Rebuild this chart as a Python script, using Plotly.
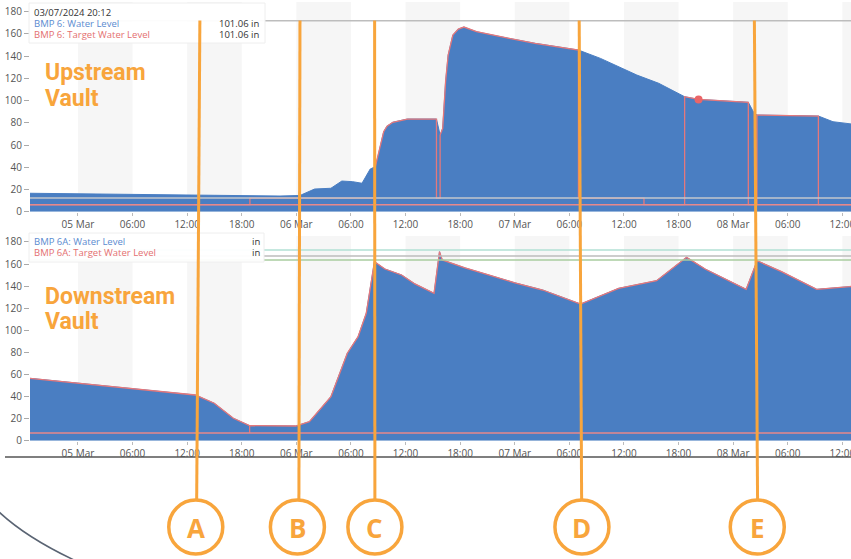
import plotly.graph_objects as go
from datetime import datetime, timedelta

# ---------------- data ----------------
x_start = "2024-03-04 18:44"
x_end = "2024-03-08 12:57"

tick_times = ["2024-03-05 00:00", "2024-03-05 06:00", "2024-03-05 12:00", "2024-03-05 18:00",
              "2024-03-06 00:00", "2024-03-06 06:00", "2024-03-06 12:00", "2024-03-06 18:00",
              "2024-03-07 00:00", "2024-03-07 06:00", "2024-03-07 12:00", "2024-03-07 18:00",
              "2024-03-08 00:00", "2024-03-08 06:00", "2024-03-08 12:00"]
tick_labels = ["05 Mar", "06:00", "12:00", "18:00", "06 Mar", "06:00", "12:00", "18:00",
               "07 Mar", "06:00", "12:00", "18:00", "08 Mar", "06:00", "12:00"]

band_starts = ["2024-03-05 00:00", "2024-03-05 12:00", "2024-03-06 00:00", "2024-03-06 12:00",
               "2024-03-07 00:00", "2024-03-07 12:00", "2024-03-08 00:00", "2024-03-08 12:00"]
band_hours = 6

# Upstream vault (BMP 6)
up_time = ["2024-03-04 18:44", "2024-03-05 02:25", "2024-03-05 12:18", "2024-03-05 22:12",
           "2024-03-06 00:24", "2024-03-06 02:00", "2024-03-06 03:48", "2024-03-06 05:00",
           "2024-03-06 06:12", "2024-03-06 07:13", "2024-03-06 08:07", "2024-03-06 08:41",
           "2024-03-06 09:00", "2024-03-06 09:36", "2024-03-06 09:58", "2024-03-06 10:36",
           "2024-03-06 12:12", "2024-03-06 15:24", "2024-03-06 15:48", "2024-03-06 16:05",
           "2024-03-06 16:24", "2024-03-06 16:41", "2024-03-06 17:12", "2024-03-06 17:48",
           "2024-03-06 18:25", "2024-03-06 19:48", "2024-03-06 23:00", "2024-03-07 02:13",
           "2024-03-07 07:00", "2024-03-07 09:25", "2024-03-07 13:25", "2024-03-07 15:49",
           "2024-03-07 18:40", "2024-03-07 20:12", "2024-03-08 01:40", "2024-03-08 02:13",
           "2024-03-08 02:37", "2024-03-08 09:22", "2024-03-08 10:58", "2024-03-08 12:57"]
up_level = [16.6, 15.9, 15.0, 14.1,
            14.6, 20.4, 21.1, 27.6,
            27.0, 25.6, 38.4, 40.5,
            51.0, 72.0, 77.0, 80.5,
            83.4, 83.4, 69.0, 75.0,
            117.0, 141.0, 159.0, 164.4,
            166.2, 162.0, 156.6, 151.6,
            145.5, 138.0, 123.0, 115.6,
            103.5, 101.06, 98.5, 90.0,
            87.0, 86.1, 81.0, 79.0]

up_target_time = ["2024-03-04 18:44", "2024-03-05 18:54", "2024-03-05 18:54", "2024-03-06 08:41",
                  "2024-03-06 08:41", "2024-03-06 09:00", "2024-03-06 09:36", "2024-03-06 09:58",
                  "2024-03-06 10:36", "2024-03-06 12:12", "2024-03-06 15:24", "2024-03-06 15:24",
                  "2024-03-06 15:48", "2024-03-06 15:48", "2024-03-06 16:05", "2024-03-06 16:24",
                  "2024-03-06 16:41", "2024-03-06 17:12", "2024-03-06 17:48", "2024-03-06 18:25",
                  "2024-03-06 19:48", "2024-03-06 23:00", "2024-03-07 02:13", "2024-03-07 07:00",
                  "2024-03-07 07:00", "2024-03-07 14:12", "2024-03-07 14:12", "2024-03-07 18:40",
                  "2024-03-07 18:40", "2024-03-07 20:12", "2024-03-08 01:40", "2024-03-08 01:40",
                  "2024-03-08 02:37", "2024-03-08 02:37", "2024-03-08 09:22", "2024-03-08 09:22",
                  "2024-03-08 12:57"]
up_target = [6.3, 6.3, 12.3, 12.3,
             40.5, 51.0, 72.0, 77.0,
             80.5, 83.4, 83.4, 12.3,
             12.3, 69.0, 75.0, 117.0,
             141.0, 159.0, 164.4, 166.2,
             162.0, 156.6, 151.6, 145.5,
             12.3, 12.3, 6.3, 6.3,
             103.5, 101.06, 98.5, 6.3,
             6.3, 87.0, 86.1, 6.3,
             6.3]

up_hover_time = "2024-03-07 20:12"
up_hover_value = 101.06

# Reference levels (in)
up_ref_levels = [171.9, 12.3, 6.3]
down_ref_levels = [172.7, 167.3, 163.7, 7.0]

# Downstream vault (BMP 6A)
down_time = ["2024-03-04 18:44", "2024-03-05 12:54", "2024-03-05 14:59", "2024-03-05 17:05",
             "2024-03-05 18:52", "2024-03-05 23:56", "2024-03-06 01:26", "2024-03-06 03:48",
             "2024-03-06 05:36", "2024-03-06 06:47", "2024-03-06 07:41", "2024-03-06 08:35",
             "2024-03-06 09:44", "2024-03-06 11:34", "2024-03-06 13:02", "2024-03-06 15:08",
             "2024-03-06 15:44", "2024-03-06 16:02", "2024-03-06 18:32", "2024-03-06 21:07",
             "2024-03-07 00:01", "2024-03-07 03:04", "2024-03-07 07:14", "2024-03-07 11:25",
             "2024-03-07 15:35", "2024-03-07 18:53", "2024-03-07 20:58", "2024-03-08 01:26",
             "2024-03-08 02:38", "2024-03-08 05:19", "2024-03-08 09:11", "2024-03-08 12:46",
             "2024-03-08 12:57"]
down_level = [56.5, 41.4, 33.9, 20.3,
              13.6, 13.3, 17.2, 39.9,
              79.2, 94.2, 115.4, 162.1,
              155.5, 150.1, 142.0, 133.5,
              171.2, 163.7, 156.5, 150.1,
              143.0, 136.5, 123.8, 138.0,
              144.9, 166.1, 155.3, 137.1,
              163.0, 153.1, 137.1, 139.5,
              139.7]

down_target_time = ["2024-03-04 18:44", "2024-03-05 12:54", "2024-03-05 14:59", "2024-03-05 17:05",
                    "2024-03-05 18:52", "2024-03-05 18:52", "2024-03-05 18:52", "2024-03-05 23:56",
                    "2024-03-06 01:26", "2024-03-06 03:48", "2024-03-06 05:36", "2024-03-06 06:47",
                    "2024-03-06 07:41", "2024-03-06 08:35", "2024-03-06 09:44", "2024-03-06 11:34",
                    "2024-03-06 13:02", "2024-03-06 15:08", "2024-03-06 15:44", "2024-03-06 16:02",
                    "2024-03-06 18:32", "2024-03-06 21:07", "2024-03-07 00:01", "2024-03-07 03:04",
                    "2024-03-07 07:14", "2024-03-07 11:25", "2024-03-07 15:35", "2024-03-07 18:53",
                    "2024-03-07 20:58", "2024-03-08 01:26", "2024-03-08 02:38", "2024-03-08 05:19",
                    "2024-03-08 09:11", "2024-03-08 12:46", "2024-03-08 12:57"]
down_target = [56.5, 41.4, 33.9, 20.3,
               13.6, 7.0, 13.6, 13.3,
               17.2, 39.9, 79.2, 94.2,
               115.4, 162.1, 155.5, 150.1,
               142.0, 133.5, 171.2, 163.7,
               156.5, 150.1, 143.0, 136.5,
               123.8, 138.0, 144.9, 166.1,
               155.3, 137.1, 163.0, 153.1,
               137.1, 139.5, 139.7]

# Event markers
event_labels = ["A", "B", "C", "D", "E"]
event_top_times = ["2024-03-05 13:24", "2024-03-06 00:24", "2024-03-06 08:36", "2024-03-07 07:05", "2024-03-08 02:20"]
event_bottom_times = ["2024-03-05 13:03", "2024-03-06 00:17", "2024-03-06 08:38", "2024-03-07 07:21", "2024-03-08 02:41"]
event_circle_times = ["2024-03-05 12:57", "2024-03-06 00:07", "2024-03-06 08:38", "2024-03-07 07:23", "2024-03-08 02:39"]

# ---------------- style ----------------
W, H = 851, 559
BLUE = "#4a7ec2"
PINK = "#e6787b"
ORANGE = "#f8a53c"
BAND = "#f6f6f6"
TICKFONT = dict(family="Open Sans", size=10, color="#555555")


def px(x):
    return x / W


def py(y):
    return 1 - y / H


fig = go.Figure()

fig.add_trace(go.Scatter(x=up_time, y=up_level, mode="lines", fill="tozeroy",
                         fillcolor=BLUE, line=dict(color=BLUE, width=1),
                         xaxis="x", yaxis="y", hoverinfo="skip", name="BMP 6: Water Level"))
fig.add_trace(go.Scatter(x=up_target_time, y=up_target, mode="lines",
                         line=dict(color=PINK, width=1.3),
                         xaxis="x", yaxis="y", hoverinfo="skip", name="BMP 6: Target Water Level"))
fig.add_trace(go.Scatter(x=[up_hover_time], y=[up_hover_value], mode="markers",
                         marker=dict(color="#ea6668", size=8),
                         xaxis="x", yaxis="y", hoverinfo="skip"))

fig.add_trace(go.Scatter(x=down_time, y=down_level, mode="lines", fill="tozeroy",
                         fillcolor=BLUE, line=dict(color=BLUE, width=1),
                         xaxis="x2", yaxis="y2", hoverinfo="skip", name="BMP 6A: Water Level"))
fig.add_trace(go.Scatter(x=down_target_time, y=down_target, mode="lines",
                         line=dict(color=PINK, width=1.3),
                         xaxis="x2", yaxis="y2", hoverinfo="skip", name="BMP 6A: Target Water Level"))

shapes = []
# alternating bands
for b in band_starts:
    t0 = datetime.strptime(b, "%Y-%m-%d %H:%M")
    t1 = t0 + timedelta(hours=band_hours)
    for xr, yr in (("x", "y domain"), ("x2", "y2 domain")):
        shapes.append(dict(type="rect", xref=xr, yref=yr, x0=t0, x1=t1, y0=0, y1=1,
                           fillcolor=BAND, line=dict(width=0), layer="below"))

# reference lines
up_ref_colors = ["#bdbdbd", "#c3c7cc", "#e8888a"]
for v, c in zip(up_ref_levels, up_ref_colors):
    shapes.append(dict(type="line", xref="x domain", yref="y", x0=0, x1=1, y0=v, y1=v,
                       line=dict(color=c, width=1.4), layer="above"))
down_ref_colors = ["#b2e0d4", "#bcbcbc", "#a9cc9f", "#e8888a"]
for v, c in zip(down_ref_levels, down_ref_colors):
    shapes.append(dict(type="line", xref="x2 domain", yref="y2", x0=0, x1=1, y0=v, y1=v,
                       line=dict(color=c, width=1.4), layer="above"))

# legend boxes
shapes.append(dict(type="rect", xref="paper", yref="paper", x0=px(29), x1=px(265), y0=py(43), y1=py(3),
                   fillcolor="rgba(255,255,255,0.95)", line=dict(color="#eeeeee", width=1), layer="above"))
shapes.append(dict(type="rect", xref="paper", yref="paper", x0=px(29), x1=px(264), y0=py(262), y1=py(233),
                   fillcolor="rgba(255,255,255,0.95)", line=dict(color="#eeeeee", width=1), layer="above"))

# bottom rule
shapes.append(dict(type="line", xref="paper", yref="paper", x0=px(5), x1=1, y0=py(457), y1=py(457),
                   line=dict(color="#555555", width=1.5), layer="above"))

# decorative arc
shapes.append(dict(type="path", xref="paper", yref="paper",
                   path=f"M {px(-2)} {py(511)} Q {px(25.4)} {py(537)} {px(74)} {py(560)}",
                   line=dict(color="#5a6473", width=1.5), layer="above"))

# event lines and circles
for lab, tt, tb, tc in zip(event_labels, event_top_times, event_bottom_times, event_circle_times):
    shapes.append(dict(type="line", xref="x", yref="paper", x0=tt, x1=tb, y0=py(20.5), y1=py(499),
                       line=dict(color=ORANGE, width=3), layer="above"))
    shapes.append(dict(type="circle", xref="x", yref="paper", xsizemode="pixel", ysizemode="pixel",
                       xanchor=tc, yanchor=py(527), x0=-27, x1=27, y0=-27, y1=27,
                       line=dict(color=ORANGE, width=3.5), fillcolor="rgba(0,0,0,0)", layer="above"))

annotations = []
for lab, tc in zip(event_labels, event_circle_times):
    annotations.append(dict(text=f"<b>{lab}</b>", xref="x", yref="paper", x=tc, y=py(527),
                            xanchor="center", yanchor="middle", showarrow=False, yshift=-1,
                            font=dict(family="Open Sans", size=26, color=ORANGE)))

# legend texts
def leg(text, x, y, color, anchor="left"):
    annotations.append(dict(text=text, xref="paper", yref="paper", x=px(x), y=py(y),
                            xanchor=anchor, yanchor="middle", showarrow=False,
                            font=dict(family="Open Sans", size=9.5, color=color)))

leg("03/07/2024 20:12", 32, 12, "#333333")
leg("BMP 6: Water Level", 32, 23.5, "#5a8bd0")
leg("BMP 6: Target Water Level", 32, 35, "#e46f70")
leg(f"{up_hover_value:.2f} in", 262, 23.5, "#333333", "right")
leg(f"{up_hover_value:.2f} in", 262, 35, "#333333", "right")
leg("BMP 6A: Water Level", 32, 241, "#5a8bd0")
leg("BMP 6A: Target Water Level", 32, 253, "#e46f70")
leg("in", 262, 241, "#333333", "right")
leg("in", 262, 253, "#333333", "right")

# vault titles
for txt, y in (("Upstream", 73), ("Vault", 99), ("Downstream", 296), ("Vault", 321)):
    annotations.append(dict(text=f"<b>{txt}</b>", xref="paper", yref="paper", x=px(43), y=py(y),
                            xanchor="left", yanchor="middle", showarrow=False,
                            font=dict(family="Roboto", size=23, color=ORANGE)))

axis_common = dict(range=[x_start, x_end], tickvals=tick_times, ticktext=tick_labels,
                   ticks="outside", ticklen=3, tickcolor="#bbbbbb", tickfont=TICKFONT,
                   showgrid=False, zeroline=False, showline=False, domain=[px(30), 1],
                   automargin=False, ticklabeloverflow="allow")
yaxis_common = dict(tick0=0, dtick=20, ticks="outside", ticklen=5, tickcolor="#aaaaaa",
                    tickfont=TICKFONT, showgrid=False, zeroline=False, showline=False,
                    automargin=False)

fig.update_layout(
    width=W, height=H, margin=dict(l=0, r=0, t=0, b=0, autoexpand=False),
    paper_bgcolor="white", plot_bgcolor="white", showlegend=False,
    xaxis=dict(anchor="y", **axis_common),
    xaxis2=dict(anchor="y2", **axis_common),
    yaxis=dict(anchor="x", domain=[py(211.7), py(2)], range=[0, (211.7 - 2) / 1.111], **yaxis_common),
    yaxis2=dict(anchor="x2", domain=[py(440.7), py(236)], range=[0, (440.7 - 236) / 1.104], **yaxis_common),
    shapes=shapes, annotations=annotations,
)

fig.write_html("out.html", config={"displayModeBar": False},
               post_script="document.body.style.margin='0';document.body.style.overflow='hidden';")
